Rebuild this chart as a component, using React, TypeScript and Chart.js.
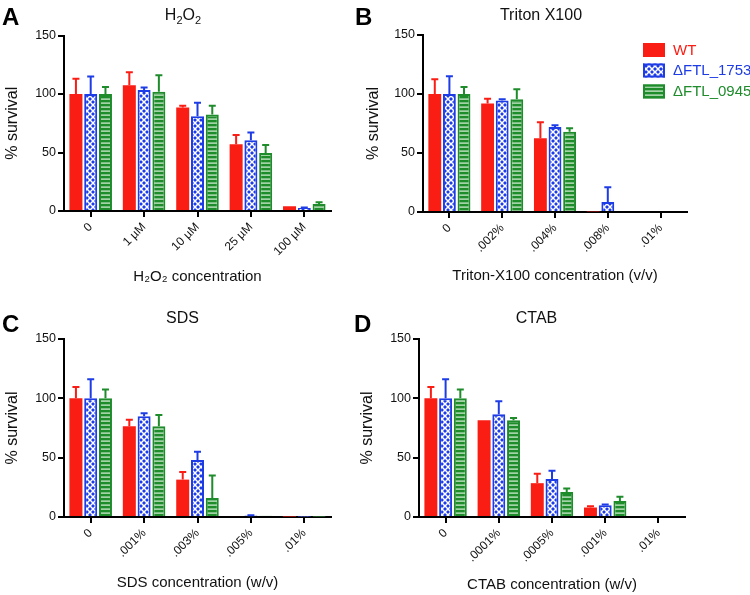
import React, { useEffect, useRef } from 'react';
import { Chart, registerables } from 'chart.js';

Chart.register(...registerables);

const FONT = "'Liberation Sans', Arial, Helvetica, sans-serif";
const RED = '#f91d14';
const BLUE = '#1e3ce6';
const GREEN = '#1f8c2c';

const SERIES_NAMES = ['WT', 'ΔFTL_1753', 'ΔFTL_0945'];

// Panel A: H2O2
const A_LABELS = ['0', '1 µM', '10 µM', '25 µM', '100 µM'];
const A_WT = [100, 107.5, 88.5, 57, 4];
const A_WT_ERR = [13, 11, 1.5, 8, 0];
const A_1753 = [100, 103.5, 81, 60.5, 2.5];
const A_1753_ERR = [15, 2, 11.5, 6.5, 0.5];
const A_0945 = [100, 102, 82.5, 49.5, 6];
const A_0945_ERR = [6, 14, 7.5, 7, 1.5];

// Panel B: Triton X100
const B_LABELS = ['0', '.002%', '.004%', '.008%', '.01%'];
const B_WT = [100, 92, 62.5, 0.5, 0];
const B_WT_ERR = [12.5, 4, 13.5, 0, 0];
const B_1753 = [100, 94.5, 72, 8.5, 0];
const B_1753_ERR = [15, 1, 1.5, 12.5, 0];
const B_0945 = [100, 95.5, 68, 0, 0];
const B_0945_ERR = [6, 8.5, 3, 0, 0];

// Panel C: SDS
const C_LABELS = ['0', '.001%', '.003%', '.005%', '.01%'];
const C_WT = [100, 76.5, 31.5, 0.8, 0.4];
const C_WT_ERR = [9.5, 5.5, 6.5, 0, 0];
const C_1753 = [100, 85, 48, 1.2, 0.3];
const C_1753_ERR = [16, 2.5, 7, 0.3, 0];
const C_0945 = [100, 76.5, 16, 1, 0.3];
const C_0945_ERR = [7.5, 9.5, 19, 0, 0];

// Panel D: CTAB
const D_LABELS = ['0', '.0001%', '.0005%', '.001%', '.01%'];
const D_WT = [100, 81.5, 28.5, 8, 0];
const D_WT_ERR = [9.5, 0, 8, 1, 0];
const D_1753 = [100, 86.5, 32, 10, 0];
const D_1753_ERR = [16, 11, 7, 0.5, 0];
const D_0945 = [100, 81.5, 21, 13.5, 0];
const D_0945_ERR = [7.5, 2, 3, 3.5, 0];

const Y_MIN = 0;
const Y_MAX = 150;
const Y_STEP = 50;

function makePattern(kind: 'cross' | 'stripe'): CanvasPattern | string {
  const c = document.createElement('canvas');
  const x = c.getContext('2d');
  if (!x) return kind === 'cross' ? BLUE : GREEN;
  if (kind === 'cross') {
    c.width = 6;
    c.height = 6;
    x.fillStyle = BLUE;
    x.fillRect(0, 0, 6, 6);
    x.strokeStyle = '#ffffff';
    x.lineWidth = 1.5;
    x.beginPath();
    x.moveTo(0, 0);
    x.lineTo(6, 6);
    x.moveTo(6, 0);
    x.lineTo(0, 6);
    x.stroke();
  } else {
    c.width = 4;
    c.height = 4;
    x.fillStyle = GREEN;
    x.fillRect(0, 0, 4, 4);
    x.fillStyle = '#dcefdc';
    x.fillRect(0, 2.5, 4, 1.2);
  }
  return x.createPattern(c, 'repeat') || (kind === 'cross' ? BLUE : GREEN);
}

const errorBarPlugin = {
  id: 'errorBars',
  afterDatasetsDraw(chart: any) {
    const ctx = chart.ctx;
    const yScale = chart.scales.y;
    chart.data.datasets.forEach((ds: any, i: number) => {
      const meta = chart.getDatasetMeta(i);
      const errs: number[] = ds.errors || [];
      meta.data.forEach((bar: any, j: number) => {
        const e = errs[j];
        if (!e) return;
        const v = ds.data[j];
        const yTop = yScale.getPixelForValue(v + e);
        const yBar = yScale.getPixelForValue(v);
        ctx.save();
        ctx.strokeStyle = ds.errorColor;
        ctx.lineWidth = 2;
        ctx.beginPath();
        ctx.moveTo(bar.x, yBar);
        ctx.lineTo(bar.x, yTop);
        ctx.moveTo(bar.x - 3.5, yTop);
        ctx.lineTo(bar.x + 3.5, yTop);
        ctx.stroke();
        ctx.restore();
      });
    });
  },
};

const legendPlugin = {
  id: 'swatchLegend',
  afterDraw(chart: any) {
    const ctx = chart.ctx;
    const x0 = 288;
    const w = 22;
    const h = 14;
    const tops = [43, 63.5, 84.5];
    chart.data.datasets.forEach((ds: any, i: number) => {
      const top = tops[i];
      ctx.save();
      ctx.fillStyle = ds.backgroundColor;
      ctx.fillRect(x0, top, w, h);
      if (ds.borderWidth > 0) {
        ctx.strokeStyle = ds.borderColor;
        ctx.lineWidth = 2;
        ctx.strokeRect(x0 + 1, top + 1, w - 2, h - 2);
      }
      ctx.fillStyle = ds.errorColor;
      ctx.font = `15px ${FONT}`;
      ctx.textBaseline = 'middle';
      ctx.textAlign = 'left';
      ctx.fillText(ds.label, 318, top + h / 2 + 0.5);
      ctx.restore();
    });
  },
};

type PanelProps = {
  left: number;
  top: number;
  width: number;
  height: number;
  labels: string[];
  series: number[][];
  errors: number[][];
  xTitle: string;
  area: { left: number; right: number; top: number; bottom: number };
  yTitleCenter: number;
  xTitleCenter: number;
  legend?: boolean;
};

function Panel(p: PanelProps) {
  const ref = useRef<HTMLCanvasElement | null>(null);
  useEffect(() => {
    if (!ref.current) return;
    const blue = makePattern('cross');
    const green = makePattern('stripe');
    const colors = [RED, BLUE, GREEN];
    const fills = [RED, blue, green];
    const yLine = 16 * 1.2;
    const xLine = 15 * 1.2;
    const chart = new Chart(ref.current, {
      type: 'bar',
      data: {
        labels: p.labels,
        datasets: p.series.map((d, i) => ({
          label: SERIES_NAMES[i],
          data: d,
          errors: p.errors[i],
          errorColor: colors[i],
          backgroundColor: fills[i],
          borderColor: colors[i],
          borderWidth: i === 0 ? 0 : 2,
          categoryPercentage: 0.83,
          barPercentage: 0.88,
        })) as any,
      },
      options: {
        animation: false,
        responsive: false,
        maintainAspectRatio: false,
        events: [],
        layout: {
          padding: {
            left: 0,
            top: p.area.top,
            right: p.width - p.area.right,
            bottom: 0,
          },
        },
        plugins: {
          legend: { display: false },
          tooltip: { enabled: false },
          title: { display: false },
        },
        scales: {
          x: {
            grid: {
              display: true,
              drawOnChartArea: false,
              drawTicks: true,
              tickLength: 6,
              color: '#000',
              lineWidth: 2,
              offset: false,
            },
            border: { display: true, color: '#000', width: 2 },
            ticks: {
              minRotation: 45,
              maxRotation: 45,
              autoSkip: false,
              padding: 3,
              color: '#111',
              font: { family: FONT, size: 12 },
            },
            title: {
              display: true,
              text: p.xTitle,
              color: '#111',
              font: { family: FONT, size: 15 },
              padding: { top: 0, bottom: p.height - p.xTitleCenter - xLine / 2 },
            },
            afterFit: (s: any) => {
              s.height = p.height - p.area.bottom;
              s.paddingLeft = 0;
              s.paddingRight = 0;
            },
          } as any,
          y: {
            min: Y_MIN,
            max: Y_MAX,
            grid: {
              display: true,
              drawOnChartArea: false,
              drawTicks: true,
              tickLength: 6,
              color: '#000',
              lineWidth: 2,
            },
            border: { display: true, color: '#000', width: 2 },
            ticks: {
              stepSize: Y_STEP,
              padding: 2,
              color: '#111',
              font: { family: FONT, size: 12.5 },
            },
            title: {
              display: true,
              text: '% survival',
              color: '#111',
              font: { family: FONT, size: 16 },
              padding: { top: p.yTitleCenter - yLine / 2, bottom: 0 },
            },
            afterFit: (s: any) => {
              s.width = p.area.left;
              s.paddingTop = 0;
              s.paddingBottom = 0;
            },
          } as any,
        },
      },
      plugins: p.legend ? [errorBarPlugin, legendPlugin] : [errorBarPlugin],
    });
    return () => chart.destroy();
  }, []);
  return (
    <canvas
      ref={ref}
      width={p.width}
      height={p.height}
      style={{ position: 'absolute', left: p.left, top: p.top, width: p.width, height: p.height }}
    />
  );
}

const letterStyle = (left: number, top: number): React.CSSProperties => ({
  position: 'absolute',
  left,
  top,
  fontFamily: FONT,
  fontWeight: 'bold',
  fontSize: 24,
  lineHeight: '24px',
  color: '#000',
});

const titleStyle = (cx: number, top: number): React.CSSProperties => ({
  position: 'absolute',
  left: cx - 100,
  width: 200,
  top,
  textAlign: 'center',
  fontFamily: FONT,
  fontSize: 16,
  lineHeight: '16px',
  color: '#111',
  whiteSpace: 'nowrap',
});

const subStyle: React.CSSProperties = { fontSize: 11, position: 'relative', top: 4 };

export default function App() {
  return (
    <div style={{ position: 'absolute', left: 0, top: 0, width: 750, height: 595, background: '#fff', overflow: 'hidden' }}>
      <Panel
        left={0}
        top={0}
        width={355}
        height={290}
        labels={A_LABELS}
        series={[A_WT, A_1753, A_0945]}
        errors={[A_WT_ERR, A_1753_ERR, A_0945_ERR]}
        xTitle={'H₂O₂ concentration'}
        area={{ left: 64, right: 331, top: 35.5, bottom: 211 }}
        yTitleCenter={12.5}
        xTitleCenter={277}
      />
      <Panel
        left={355}
        top={0}
        width={395}
        height={290}
        labels={B_LABELS}
        series={[B_WT, B_1753, B_0945]}
        errors={[B_WT_ERR, B_1753_ERR, B_0945_ERR]}
        xTitle={'Triton-X100 concentration (v/v)'}
        area={{ left: 68, right: 332, top: 35, bottom: 212 }}
        yTitleCenter={18.5}
        xTitleCenter={276}
        legend
      />
      <Panel
        left={0}
        top={290}
        width={355}
        height={305}
        labels={C_LABELS}
        series={[C_WT, C_1753, C_0945]}
        errors={[C_WT_ERR, C_1753_ERR, C_0945_ERR]}
        xTitle={'SDS concentration (w/v)'}
        area={{ left: 64, right: 331, top: 49, bottom: 227 }}
        yTitleCenter={12.5}
        xTitleCenter={293}
      />
      <Panel
        left={355}
        top={290}
        width={395}
        height={305}
        labels={D_LABELS}
        series={[D_WT, D_1753, D_0945]}
        errors={[D_WT_ERR, D_1753_ERR, D_0945_ERR]}
        xTitle={'CTAB concentration (w/v)'}
        area={{ left: 64, right: 330, top: 49, bottom: 227 }}
        yTitleCenter={13}
        xTitleCenter={295}
      />
      <div style={letterStyle(2, 5)}>A</div>
      <div style={letterStyle(355, 5)}>B</div>
      <div style={letterStyle(2, 312)}>C</div>
      <div style={letterStyle(354, 312)}>D</div>
      <div style={titleStyle(183, 6.5)}>
        H<span style={subStyle}>2</span>O<span style={subStyle}>2</span>
      </div>
      <div style={titleStyle(541, 6.5)}>Triton X100</div>
      <div style={titleStyle(182.5, 310)}>SDS</div>
      <div style={titleStyle(536.5, 310)}>CTAB</div>
    </div>
  );
}
